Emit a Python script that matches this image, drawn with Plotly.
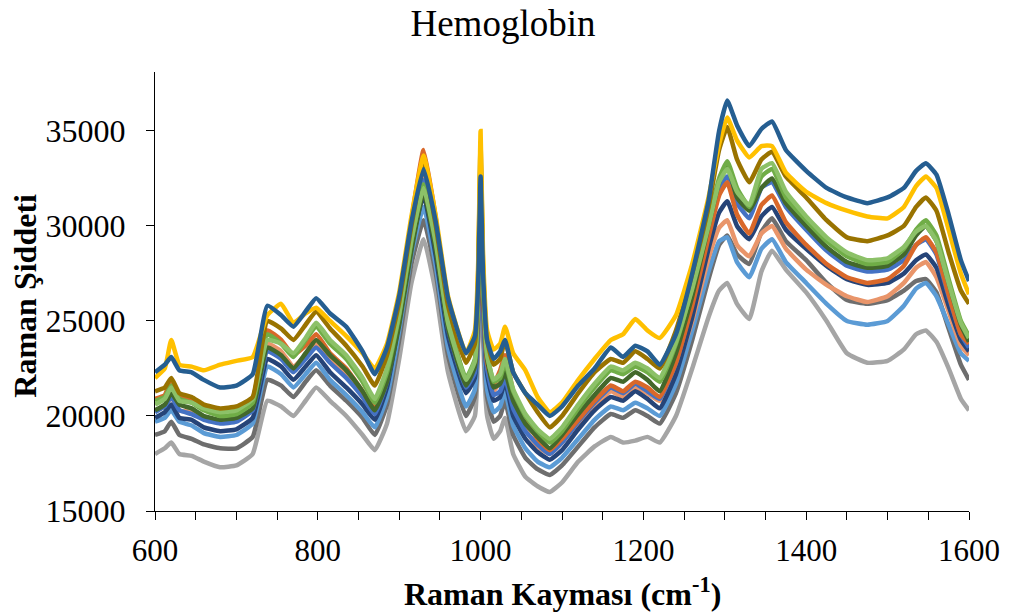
import plotly.graph_objects as go

wavenumber = [600, 612, 620, 630, 645, 660, 680, 700, 720, 738,
              755, 770, 785, 798, 815, 835, 855, 870, 885, 900,
              915, 930, 945, 960, 982, 993, 997, 1000, 1003, 1008,
              1016, 1024, 1030, 1040, 1055, 1070, 1085, 1100, 1120, 1140,
              1160, 1175, 1190, 1205, 1220, 1240, 1260, 1280, 1293, 1303,
              1315, 1330, 1345, 1358, 1375, 1400, 1425, 1450, 1475, 1500,
              1520, 1535, 1547, 1560, 1575, 1590, 1600]

s_lightgray = [18000, 18300, 18600, 18000, 17900, 17600, 17300, 17400, 18000, 20800,
               20500, 20000, 20800, 21500, 20800, 20000, 19000, 18200, 19600, 23000,
               27000, 29300, 26500, 22300, 19200, 20000, 23500, 30000, 24000, 20000,
               18800, 19200, 19900, 18000, 16800, 16300, 16000, 16500, 17600, 18400,
               18900, 18600, 18700, 18900, 18600, 20000, 22500, 25200, 26600, 27000,
               25900, 25100, 27600, 28700, 27700, 26500, 25000, 23300, 22800, 22900,
               23500, 24300, 24500, 23900, 22500, 20900, 20300]

s_darkgray = [19000, 19200, 19700, 19000, 18800, 18500, 18300, 18300, 18900, 21900,
              21600, 21000, 21800, 22400, 21600, 20800, 19900, 19000, 20600, 24000,
              28000, 30300, 27500, 23200, 20000, 21000, 24500, 31000, 25000, 21000,
              19700, 20000, 20800, 19000, 17800, 17200, 16900, 17400, 18400, 19400,
              20100, 19900, 20300, 20000, 19600, 21200, 24000, 27200, 29000, 29500,
              28500, 28000, 29700, 30400, 29200, 28200, 27000, 26100, 25900, 26100,
              26600, 27100, 27200, 26500, 24600, 22700, 21900]

s_lightblue = [19700, 19900, 20300, 19700, 19500, 19100, 18900, 19000, 19600, 22600,
               22200, 21500, 22200, 22800, 21900, 21100, 20200, 19400, 21000, 24500,
               28500, 31000, 27900, 23600, 20500, 21400, 25000, 31500, 25400, 21400,
               20200, 20500, 21300, 19500, 18300, 17600, 17300, 17800, 18800, 19800,
               20500, 20300, 20700, 20400, 20000, 21700, 24500, 27600, 29200, 29400,
               28100, 27300, 28800, 29300, 28100, 27000, 25900, 25000, 24800, 25000,
               25800, 26700, 27000, 26300, 24800, 23300, 22900]

s_salmon = [20300, 20500, 21000, 20300, 20200, 19900, 19700, 19800, 20300, 23800,
            23400, 22600, 23200, 23800, 23000, 22200, 21000, 20200, 21900, 25300,
            29500, 32700, 29200, 24800, 21500, 22300, 25800, 31500, 26000, 22400,
            21300, 21900, 22700, 20800, 19300, 18400, 18000, 18600, 19600, 20500,
            21300, 21000, 21500, 21200, 20800, 22400, 25000, 28300, 29900, 30300,
            29000, 28400, 29600, 30000, 28800, 27700, 26900, 26300, 26000, 26300,
            27000, 27800, 28100, 27300, 25500, 23700, 23200]

s_darkblue = [19900, 20200, 20600, 19900, 19800, 19400, 19200, 19300, 19900, 23000,
              22600, 21900, 22600, 23200, 22300, 21500, 20600, 19800, 21500, 25000,
              29000, 31600, 28400, 24200, 21200, 22000, 25500, 32000, 26000, 22200,
              20800, 21000, 21800, 20000, 18800, 18100, 17700, 18200, 19300, 20300,
              21000, 20800, 21300, 20900, 20400, 22200, 25200, 28800, 30700, 31300,
              30000, 29300, 30500, 31000, 29800, 28800, 27900, 27200, 26900, 27000,
              27500, 28200, 28500, 27800, 25800, 24000, 23400]

s_blue = [20200, 20500, 21000, 20300, 20100, 19800, 19600, 19700, 20300, 23400,
          23000, 22300, 23000, 23600, 22800, 22000, 21000, 20100, 21800, 25200,
          29300, 32400, 29000, 24600, 21500, 22300, 26000, 32500, 26400, 22500,
          21100, 21300, 22000, 20400, 19200, 18500, 18000, 18600, 19700, 20700,
          21500, 21200, 21700, 21300, 20900, 22800, 26000, 29800, 32000, 32600,
          31200, 30400, 32000, 32300, 31000, 29800, 28700, 27900, 27600, 27700,
          28200, 29000, 29300, 28500, 26300, 24300, 23600]

s_orange = [20900, 21100, 21900, 21100, 20900, 20500, 20300, 20300, 20900, 24500,
            24000, 23200, 23700, 24300, 23300, 22500, 21300, 20400, 22300, 25800,
            30300, 34000, 30400, 25400, 21800, 22700, 26000, 32000, 26500, 22800,
            21700, 22400, 23200, 21300, 19800, 18800, 18200, 18800, 19800, 20800,
            21600, 21300, 21800, 21500, 21000, 22800, 25800, 29400, 31600, 32300,
            30600, 29600, 31100, 31600, 30200, 29000, 28000, 27300, 27000, 27200,
            27900, 29000, 29400, 28600, 26400, 24300, 23800]

s_darkgreen = [20300, 20600, 21200, 20600, 20400, 20000, 19800, 19900, 20400, 23600,
               23200, 22500, 23300, 24000, 23200, 22400, 21300, 20300, 21800, 24800,
               28700, 31800, 28700, 24600, 21600, 22600, 26500, 33000, 27000, 23000,
               21500, 21700, 22300, 20800, 19600, 18900, 18300, 19000, 20100, 21100,
               22000, 21800, 22300, 21900, 21300, 23300, 26300, 30000, 32300, 33200,
               31500, 30800, 32000, 32500, 31200, 30000, 28900, 28100, 27800, 27900,
               28500, 29500, 30000, 29200, 27000, 24800, 23900]

s_green = [20800, 21000, 21600, 20900, 20700, 20300, 20000, 20100, 20700, 24300,
           23800, 23100, 24000, 24700, 23800, 23000, 21800, 20700, 22300, 25300,
           29200, 32200, 29300, 25000, 22000, 23000, 27000, 33600, 27500, 23300,
           21800, 22000, 22800, 21300, 20000, 19200, 18600, 19200, 20400, 21500,
           22400, 22200, 22600, 22300, 21800, 23800, 26800, 30300, 32500, 33400,
           32000, 31000, 32600, 33000, 31500, 30300, 29200, 28400, 28000, 28100,
           28800, 29800, 30300, 29500, 27200, 25000, 24200]

s_lightgreen = [20600, 20900, 21500, 20800, 20700, 20400, 20200, 20300, 20900, 24000,
                23800, 23300, 24100, 24900, 24000, 23200, 22000, 20900, 22500, 25400,
                29300, 32000, 29100, 24900, 21900, 22900, 26800, 33200, 27300, 23200,
                21900, 22200, 23000, 21400, 20100, 19300, 18800, 19400, 20600, 21700,
                22600, 22400, 22800, 22500, 22000, 23900, 26700, 30000, 32300, 33000,
                31800, 31100, 33000, 33300, 31800, 30500, 29400, 28600, 28200, 28300,
                28900, 29700, 30000, 29200, 27000, 24900, 24100]

s_darkgold = [21300, 21500, 22000, 21200, 21000, 20600, 20400, 20500, 21000, 25000,
              24600, 24000, 24800, 25500, 24600, 23700, 22600, 21600, 23200, 26000,
              30000, 33200, 30000, 25800, 22800, 23800, 27500, 34400, 28000, 24000,
              22700, 23000, 24000, 22300, 21200, 20200, 19400, 20000, 21200, 22300,
              23000, 22800, 23400, 23000, 22500, 24500, 27500, 31000, 34000, 35200,
              33500, 32300, 33500, 33900, 32600, 31500, 30300, 29400, 29200, 29500,
              30000, 31000, 31500, 30800, 28600, 26600, 25900]

s_gold = [22000, 22500, 24000, 22700, 22600, 22400, 22700, 22900, 23100, 25300,
          25900, 24900, 25400, 25700, 25000, 24200, 23300, 22500, 23800, 26500,
          30500, 33700, 30500, 26300, 23300, 24500, 28000, 35000, 28500, 24500,
          23500, 23800, 24700, 23300, 22400, 21000, 20200, 20700, 21900, 23000,
          24000, 24300, 25100, 24500, 24100, 25300, 28000, 31500, 34300, 35700,
          34500, 33600, 34200, 34200, 32800, 31800, 31200, 30800, 30500, 30400,
          31000, 32100, 32600, 32000, 29800, 27500, 26400]

s_teal = [22300, 22700, 23100, 22400, 22300, 21900, 21500, 21600, 22200, 25800,
          25300, 24700, 25500, 26200, 25400, 24700, 23400, 22200, 23600, 26300,
          30200, 33000, 30200, 26200, 23300, 24200, 27000, 32600, 27500, 24000,
          23000, 23400, 24000, 22300, 21200, 20600, 20000, 20500, 21600, 22500,
          23600, 23100, 23700, 23400, 22700, 24300, 27500, 31300, 35000, 36600,
          35300, 34200, 35100, 35500, 34000, 32900, 32000, 31500, 31200, 31500,
          32000, 32900, 33300, 32700, 30600, 28200, 27100]

series = [
    ("S12", s_lightgray, "#A5A5A5"),
    ("S10", s_darkgray, "#6E6E6E"),
    ("S11", s_lightblue, "#5B9BD5"),
    ("S9", s_salmon, "#E9956A"),
    ("S7", s_darkblue, "#264478"),
    ("S8", s_blue, "#4472C4"),
    ("S6", s_orange, "#D9682A"),
    ("S5", s_darkgreen, "#43682B"),
    ("S4", s_green, "#70AD47"),
    ("S13", s_lightgreen, "#8CC168"),
    ("S3", s_darkgold, "#997300"),
    ("S2", s_gold, "#FFC000"),
    ("S1", s_teal, "#255E91"),
]

x_ticks = [600, 800, 1000, 1200, 1400, 1600]
y_ticks = [15000, 20000, 25000, 30000, 35000]

fig = go.Figure()
for name, vals, col in series:
    fig.add_trace(go.Scatter(x=wavenumber, y=vals, mode="lines", name=name,
                             line=dict(color=col, width=4.5, shape="spline", smoothing=0.4),
                             showlegend=False))

serif = "Liberation Serif, Times New Roman, serif"
fig.update_layout(
    width=1012, height=615,
    margin=dict(l=155, r=40, t=72, b=104),
    paper_bgcolor="white", plot_bgcolor="white",
    font=dict(family=serif, color="black"),
    title=dict(text="Hemoglobin", x=0.497, xanchor="center", y=0.962, yanchor="middle",
               font=dict(family=serif, size=37, color="black")),
)
fig.update_xaxes(range=[600, 1600], tickvals=x_ticks, ticktext=[str(v) for v in x_ticks],
                 ticks="outside", ticklen=8, tickwidth=1, tickcolor="black",
                 showline=True, linecolor="black", linewidth=1.3, showgrid=False, zeroline=False,
                 ticklabelstandoff=4,
                 tickfont=dict(family=serif, size=31, color="black"),
                 minor=dict(dtick=50, tick0=600, ticks="outside", ticklen=8, tickcolor="black", showgrid=False))
fig.update_yaxes(range=[15000, 38100], tickvals=y_ticks, ticktext=[str(v) for v in y_ticks],
                 ticks="outside", ticklen=8, tickwidth=1, tickcolor="black",
                 showline=True, linecolor="black", linewidth=1.3, showgrid=False, zeroline=False,
                 ticklabelstandoff=14,
                 tickfont=dict(family=serif, size=32, color="black"))

fig.add_annotation(text="<b>Raman Kayması (cm<sup>-1</sup>)</b>", xref="paper", yref="paper",
                   x=0.5, y=-0.185, xanchor="center", yanchor="middle", showarrow=False,
                   font=dict(family=serif, size=32, color="black"))
fig.add_annotation(text="<b>Raman Şiddeti</b>", xref="paper", yref="paper",
                   x=-0.160, y=0.49, xanchor="center", yanchor="middle", textangle=-90,
                   showarrow=False, font=dict(family=serif, size=32, color="black"))

fig.write_html("out.html")
